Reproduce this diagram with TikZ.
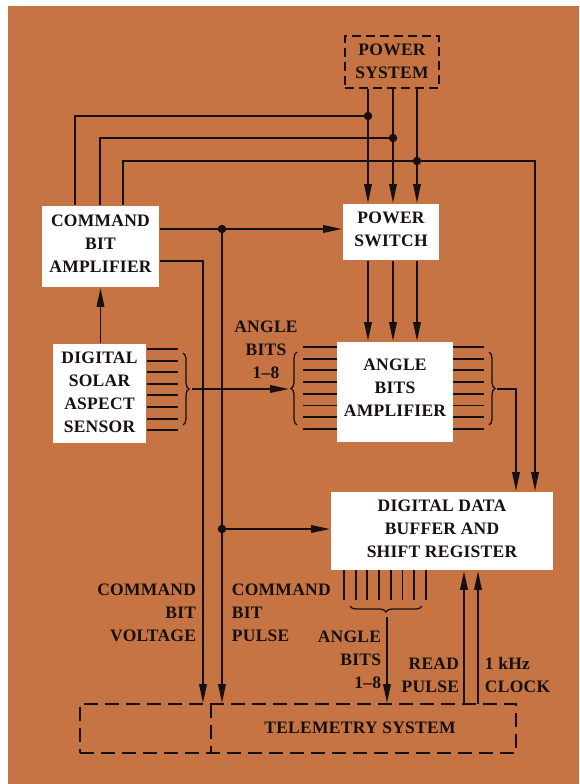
\documentclass[tikz,border=0pt]{standalone}
\usepackage{fontspec}
\setmainfont{Liberation Serif}
\newfontfamily\dfont{Liberation Serif Bold}[LetterSpace=1.5]
\usetikzlibrary{arrows.meta,decorations.pathreplacing}
\definecolor{bg}{RGB}{199,116,68}
\definecolor{ink}{RGB}{22,16,14}
\begin{document}
\begin{tikzpicture}[x=1pt,y=-1pt, line width=1.9pt, draw=ink,
  box/.style={fill=white, draw=none, inner sep=0pt},
  lbl/.style={font=\dfont\fontsize{17.5}{23}\selectfont, inner sep=0pt, align=center, text=ink},
  arr/.style={-{Triangle[length=19pt,width=7.5pt]}},
  jdot/.style={circle, fill=ink, draw=none, inner sep=0pt, minimum size=8.5pt},
  dshbig/.style={draw=ink, dash pattern=on 14pt off 7pt, line width=1.9pt},
  dshsmall/.style={draw=ink, dash pattern=on 9pt off 5pt, line width=1.9pt},
  brc/.style={decorate, decoration={brace, amplitude=6pt}, line width=1.3pt}]

\path[use as bounding box] (0,0) rectangle (579,784);
\fill[white] (0,0) rectangle (579,784);
\fill[bg] (8,6) rectangle (579,784);

% boxes
\node[dshsmall, minimum width=94pt, minimum height=52pt, inner sep=0pt] (ps) at (392,62) {};
\node[lbl] (pst) at (392,61.5) {POWER\\SYSTEM};

\node[box, minimum width=117pt, minimum height=81pt] (cba) at (100.5,246.5) {};
\node[lbl] (cbat) at (100.5,244) {COMMAND\\BIT\\AMPLIFIER};

\node[box, minimum width=96pt, minimum height=56pt] (psw) at (391,232) {};
\node[lbl] (pswt) at (391,229) {POWER\\SWITCH};

\node[box, minimum width=93pt, minimum height=99pt] (dsas) at (99.5,393.5) {};
\node[lbl] (dsast) at (99.5,392) {DIGITAL\\SOLAR\\ASPECT\\SENSOR};

\node[box, minimum width=116pt, minimum height=100pt] (aba) at (395,392) {};
\node[lbl] (abat) at (395,388) {ANGLE\\BITS\\AMPLIFIER};

\node[box, minimum width=222pt, minimum height=78pt] (buf) at (442,531) {};
\node[lbl] (buft) at (442,528.5) {DIGITAL DATA\\BUFFER AND\\SHIFT REGISTER};

\node[dshbig, minimum width=436pt, minimum height=49pt, inner sep=0pt] (tel) at (298,728.5) {};
\node[lbl] (telt) at (360,728) {TELEMETRY SYSTEM};
\coordinate (dv) at (211,704);
\draw[dshbig] (dv) -- (dv |- tel.south);

% junctions
\node[jdot] (j1) at (368,116) {};
\node[jdot] (j2) at (393,138) {};
\node[jdot] (j3) at (417,161) {};
\node[jdot] (j4) at (222,229) {};
\node[jdot] (j5) at (222,529) {};
\coordinate (a1) at (75,116);
\coordinate (a2) at (100,138);
\coordinate (a3) at (123,161);
\coordinate (a4) at (535,161);
\coordinate (b1) at (203,261);

% power lines
\foreach \j in {j1,j2,j3}{
  \draw[arr] (ps.south -| \j) -- (psw.north -| \j);
  \draw[arr] (psw.south -| \j) -- (aba.north -| \j);
}
\draw (j1.center) -- (a1) -- (a1 |- cba.north);
\draw (j2.center) -- (a2) -- (a2 |- cba.north);
\draw (j3.center) -- (a3) -- (a3 |- cba.north);
\draw[arr] (j3.center) -- (a4) -- (a4 |- buf.north);

% command lines
\draw[arr] (cba.east |- j4) -- (psw.west |- j4);
\draw[arr] (j4.center) -- (j4 |- tel.north);
\draw[arr] (j5.center) -- (buf.west |- j5);
\draw[arr] (cba.east |- b1) -- (b1) -- (b1 |- tel.north);
\draw[arr] (cba.south |- dsas.north) -- (cba.south);

% bit lines and braces
\foreach \i in {0,...,7}{
  \draw (147,349+11.6*\i) -- (178,349+11.6*\i);
  \draw (303,347+11.7*\i) -- (337,347+11.7*\i);
  \draw (453,347+11.7*\i) -- (484,347+11.7*\i);
  \draw (344+11.7*\i,570) -- (344+11.7*\i,600);
}
\draw[brc] (183,353) -- (183,425);
\draw[brc] (297,425) -- (297,352);
\draw[brc] (489,352) -- (489,425);
\draw[brc] (422,606) -- (350,606);

\coordinate (dbr) at (192,389);
\coordinate (abr) at (289,389);
\draw[arr] (dbr) -- (abr);
\coordinate (rb) at (497,389);
\coordinate (rbc) at (516,389);
\draw[arr] (rb) -- (rbc) -- (rbc |- buf.north);

\coordinate (bb) at (387,617);
\draw[arr] (bb) -- (bb |- tel.north);
\coordinate (rp) at (464,704);
\coordinate (ck) at (478,704);
\draw[arr] (rp) -- (rp |- buf.south);
\draw[arr] (ck) -- (ck |- buf.south);

% labels
\node[lbl] (ab1) at (266,350) {ANGLE\\BITS\\1–8};
\node[lbl, anchor=east, align=right] (cbv) at (197,613) {COMMAND\\BIT\\VOLTAGE};
\node[lbl, anchor=west, align=left] (cbp) at (231,613) {COMMAND\\BIT\\PULSE};
\node[lbl, anchor=east, align=right] (ab2) at (382,660) {ANGLE\\BITS\\1–8};
\node[lbl, anchor=east, align=right] (rdp) at (460,675) {READ\\PULSE};
\node[lbl, anchor=west, align=left] (clk) at (484,675) {1 kHz\\CLOCK};
\end{tikzpicture}
\end{document}
